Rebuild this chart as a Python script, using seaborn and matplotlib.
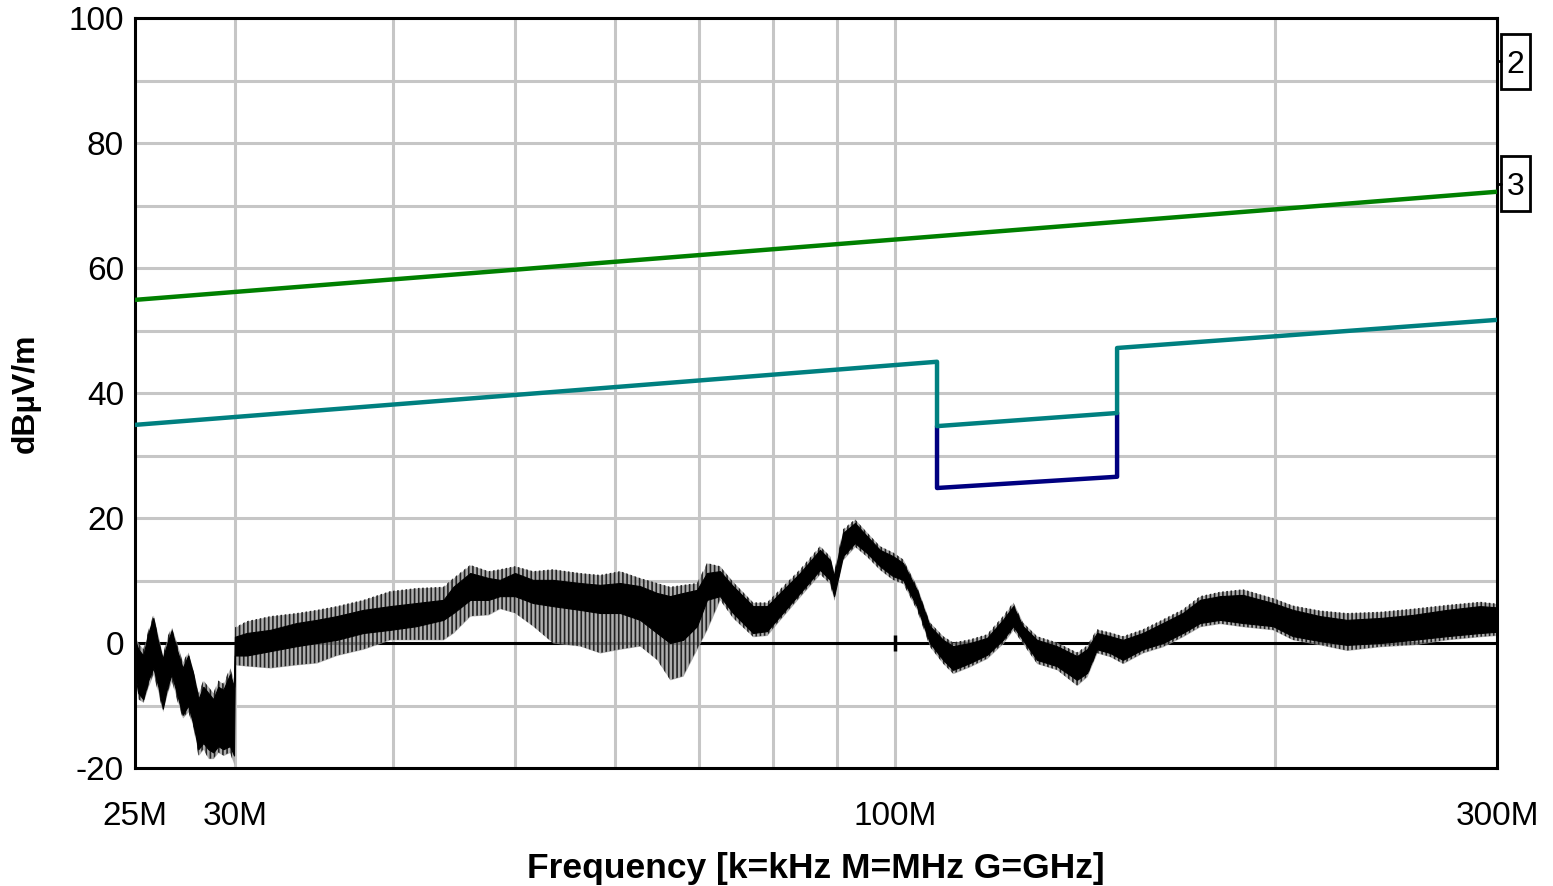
import numpy as np
import pandas as pd
import matplotlib
matplotlib.use("Agg")
import matplotlib.pyplot as plt
import seaborn as sns
from matplotlib.ticker import FixedLocator, NullLocator, FixedFormatter
from matplotlib.transforms import blended_transform_factory
from matplotlib.patches import Rectangle

# ---------------- data ----------------
# Limit line 3 (green)
green_freq = [25, 300]
green_level = [54.9, 72.2]

# Limit line (teal) with notch
teal_freq = [25, 108, 108, 150, 150, 300]
teal_level = [34.9, 45.0, 34.7, 36.8, 47.2, 51.7]

# Notch lower limit (navy)
navy_freq = [108, 108, 150, 150]
navy_level = [34.7, 24.8, 26.6, 36.8]

# Measured trace: frequency (MHz), dense core band and spike extents (dBµV/m)
trace_freq = [25.00, 25.15, 25.38, 25.61, 25.85, 26.09, 26.30, 26.52, 26.73, 26.98,
              27.27, 27.55, 27.81, 28.06, 28.32, 28.58, 28.84, 29.10, 29.37, 29.73,
              29.95, 30.00, 30.65, 31.99, 33.58, 34.83, 36.12, 37.92, 39.81, 41.80,
              43.88, 44.69, 46.08, 47.64, 48.65, 50.00, 51.67, 53.59, 56.30, 58.40,
              60.57, 62.82, 64.80, 66.36, 67.95, 69.70, 70.98, 72.68, 74.43, 77.20,
              79.20, 81.10, 84.11, 87.23, 88.84, 89.50, 90.97, 92.98, 95.04, 97.32,
              99.66, 101.5, 104.1, 106.6, 109.2, 111.2, 114.7, 118.3, 121.8, 124.1,
              126.3, 129.6, 134.4, 139.4, 142.0, 144.6, 148.1, 151.6, 157.2, 163.1,
              169.1, 174.5, 181.0, 188.7, 199.3, 206.7, 217.2, 228.1, 242.4, 257.4,
              273.9, 290.9, 300.0]
core_hi = [0.5, -1, -2, 1.5, 4, 0, -2.5, 0, 2, -1,
           -4, -2, -5, -9, -7, -8, -9, -7, -7.5, -5,
           -7, 1, 1.6, 2.1, 3.2, 3.7, 4.3, 5.3, 5.9, 6.4,
           6.9, 9, 11.2, 10.4, 10.1, 11.2, 10.1, 10.1, 9.6, 9.3,
           9.6, 9.1, 8, 7.5, 8, 8.5, 11.2, 11.5, 9.1, 5.9,
           5.9, 8, 11.2, 14.9, 13.3, 10.7, 17.6, 19.2, 17.1, 14.9,
           13.9, 12.8, 8.5, 2.7, 0.5, -0.5, 0, 0.8, 3.7, 5.9,
           2.7, 0.5, -0.5, -2.1, -1, 1.6, 1.1, 0.5, 1.6, 3.2,
           4.8, 6.9, 7.5, 7.7, 6.4, 5.3, 4.3, 3.7, 4.0, 4.5,
           5.3, 5.9, 5.7]
core_lo = [-5, -8, -9, -6, -4, -7, -10.5, -7, -5, -8,
           -11.5, -10, -13, -17, -16, -17, -17.5, -16.5, -17, -16.5,
           -18, -2, -2, -1.3, -0.5, 0, 0.5, 1.6, 2.1, 2.7,
           3.7, 4.8, 6.9, 6.9, 7.5, 7.5, 6.4, 5.9, 5.3, 4.8,
           4.8, 3.7, 1.6, 0, 0.5, 2.7, 6.9, 7.5, 4.8, 1.6,
           1.9, 4.3, 8, 11.7, 10.1, 7.5, 13.9, 16, 14.4, 12.3,
           10.7, 10.1, 5.9, 0, -2.7, -4.3, -3.2, -1.9, 0.5, 2.7,
           0.5, -2.7, -3.7, -5.9, -4.8, -1, -1.6, -2.7, -1, 0,
           1.6, 3.2, 3.7, 3.2, 2.7, 1.1, 0.3, -0.3, 0, 0.5,
           1.1, 1.6, 1.8]
spike_hi = [1, 0, -1, 2, 4.5, 1, -2, 1, 2.5, 0,
            -3, -1.5, -4.5, -8, -6, -7, -8, -6, -6.5, -4,
            -6, 2.5, 3.5, 4.3, 4.8, 5.3, 5.9, 6.9, 8.3, 8.8,
            9.0, 10.4, 12.5, 11.5, 11.8, 12.3, 11.5, 11.8, 11.2, 10.9,
            11.5, 10.4, 9.6, 9, 9.3, 9.6, 12.8, 12.3, 9.8, 6.5,
            6.5, 8.6, 11.8, 15.5, 13.9, 11.3, 18.2, 19.8, 17.7, 15.5,
            14.5, 13.4, 9.1, 3.3, 1.1, 0.1, 0.6, 1.4, 4.3, 6.5,
            3.3, 1.1, 0.1, -1.5, -0.4, 2.2, 1.7, 1.1, 2.2, 3.8,
            5.4, 7.5, 8.2, 8.6, 7.2, 6.0, 5.2, 4.8, 5.0, 5.5,
            6.1, 6.6, 6.3]
spike_lo = [-6, -9, -9.5, -7, -5, -8, -11, -8, -6, -9,
            -12, -11, -13.5, -18, -17, -18.5, -18.5, -17.5, -18, -17.5,
            -19.5, -3.5, -3.7, -4, -3.5, -3.2, -2, -1, 0.5, 0.5,
            0.5, 1.6, 4.3, 4.5, 5.5, 4.8, 2.7, 0, -0.5, -1.6,
            -1, -0.5, -2.7, -5.9, -5.3, -1, 2.1, 6.9, 4, 1,
            1.2, 3.7, 7.4, 11, 9.5, 6.8, 13.3, 15.4, 13.8, 11.7,
            10.1, 9.5, 5.3, -0.6, -3.3, -4.9, -3.8, -2.5, -0.1, 2.1,
            -0.1, -3.3, -4.3, -6.8, -5.4, -1.6, -2.2, -3.3, -1.6, -0.6,
            1, 2.6, 3.1, 2.6, 2.1, 0.5, -0.3, -1.2, -0.6, -0.3,
            0.5, 1.0, 1.2]

# Axis ticks / labels
x_tick_freqs = [25, 30, 100, 300]
x_tick_labels = ["25M", "30M", "100M", "300M"]
x_grid_freqs = [30, 40, 50, 60, 70, 80, 90, 100, 200, 300]
y_major = [-20, 0, 20, 40, 60, 80, 100]
y_minor = [-10, 10, 30, 50, 70, 90]
zero_axis_marks = [100]

# Right-side markers
marker_labels = ["2", "3"]
marker_levels = [93.1, 73.5]

# ---------------- drawing ----------------
sns.set_style("white")
plt.rcParams["font.family"] = ["Liberation Sans", "DejaVu Sans"]
plt.rcParams["axes.unicode_minus"] = False
plt.rcParams["text.color"] = "black"
plt.rcParams["axes.labelcolor"] = "black"
plt.rcParams["xtick.color"] = "black"
plt.rcParams["ytick.color"] = "black"
plt.rcParams["hatch.linewidth"] = 1.2

W, H = 1553, 886
AX_L, AX_R, AX_T, AX_B = 135, 1497, 18, 768
fig = plt.figure(figsize=(W / 100, H / 100), dpi=100)
ax = fig.add_axes([AX_L / W, 1 - AX_B / H, (AX_R - AX_L) / W, (AX_B - AX_T) / H])

ax.set_xscale("log")
ax.set_xlim(25, 300)
ax.set_ylim(-20, 100)

# grid
grid_color = "#c6c6c6"
for f in x_grid_freqs:
    ax.axvline(f, color=grid_color, lw=2.2, zorder=0)
for v in range(-20, 101, 10):
    ax.axhline(v, color=grid_color, lw=2.2, zorder=0)
ax.axhline(0, color="black", lw=2.2, zorder=1)
ax.plot(zero_axis_marks, [0] * len(zero_axis_marks), marker="|", ms=11, mew=2.5,
        color="black", ls="none", zorder=1)

# measured trace
ax.fill_between(trace_freq, spike_lo, spike_hi, facecolor="#9a9a9a", alpha=0.8,
                lw=0, zorder=2)
ax.fill_between(trace_freq, spike_lo, spike_hi, facecolor="none", hatch="||||",
                edgecolor="#222222", lw=0, zorder=2.5)
ax.fill_between(trace_freq, core_lo, core_hi, color="black", lw=0.8,
                edgecolor="black", zorder=3)

# limit lines
sns.lineplot(x=navy_freq, y=navy_level, sort=False, estimator=None, color="#000080",
             lw=3.2, ax=ax, zorder=4)
sns.lineplot(x=teal_freq, y=teal_level, sort=False, estimator=None, color="#008080",
             lw=3.2, ax=ax, zorder=5)
sns.lineplot(x=green_freq, y=green_level, sort=False, estimator=None, color="#008000",
             lw=3.2, ax=ax, zorder=5)

# ticks
ax.xaxis.set_major_locator(FixedLocator(x_tick_freqs))
ax.xaxis.set_major_formatter(FixedFormatter(x_tick_labels))
ax.xaxis.set_minor_locator(NullLocator())
ax.tick_params(axis="x", which="both", length=0, pad=24, labelsize=24)
ax.yaxis.set_major_locator(FixedLocator(y_major))
ax.yaxis.set_minor_locator(FixedLocator(y_minor))
ax.tick_params(axis="y", which="both", direction="in", length=7, width=2,
               color="black", labelsize=24, pad=8)
ax.tick_params(axis="y", which="minor", labelleft=False)

for s in ax.spines.values():
    s.set_visible(True)
    s.set_color("black")
    s.set_linewidth(2.2)

ax.set_xlabel("Frequency [k=kHz M=MHz G=GHz]", fontsize=25.5, fontweight="bold",
              labelpad=14)
ax.set_ylabel("dBµV/m", fontsize=23, fontweight="bold", labelpad=20)

# right-side markers (box 29 px wide, 55 px tall, just right of the axis)
ax_w_px = AX_R - AX_L
px_per_unit = (AX_B - AX_T) / 120.0
trans = blended_transform_factory(ax.transAxes, ax.transData)
box_w = 29 / ax_w_px
box_h = 55 / px_per_unit
gap = 4 / ax_w_px
for lab, lev in zip(marker_labels, marker_levels):
    ax.add_patch(Rectangle((1.0 + gap, lev - box_h / 2), box_w, box_h, transform=trans,
                           fc="white", ec="black", lw=2, clip_on=False, zorder=6))
    ax.plot([1.0, 1.0 + gap], [lev, lev], transform=trans, color="black", lw=2,
            clip_on=False, zorder=6)
    ax.text(1.0 + gap + box_w / 2, lev, lab, transform=trans, ha="center",
            va="center_baseline", fontsize=23, zorder=7, clip_on=False)

fig.savefig("out.png", dpi=100, facecolor="white")
